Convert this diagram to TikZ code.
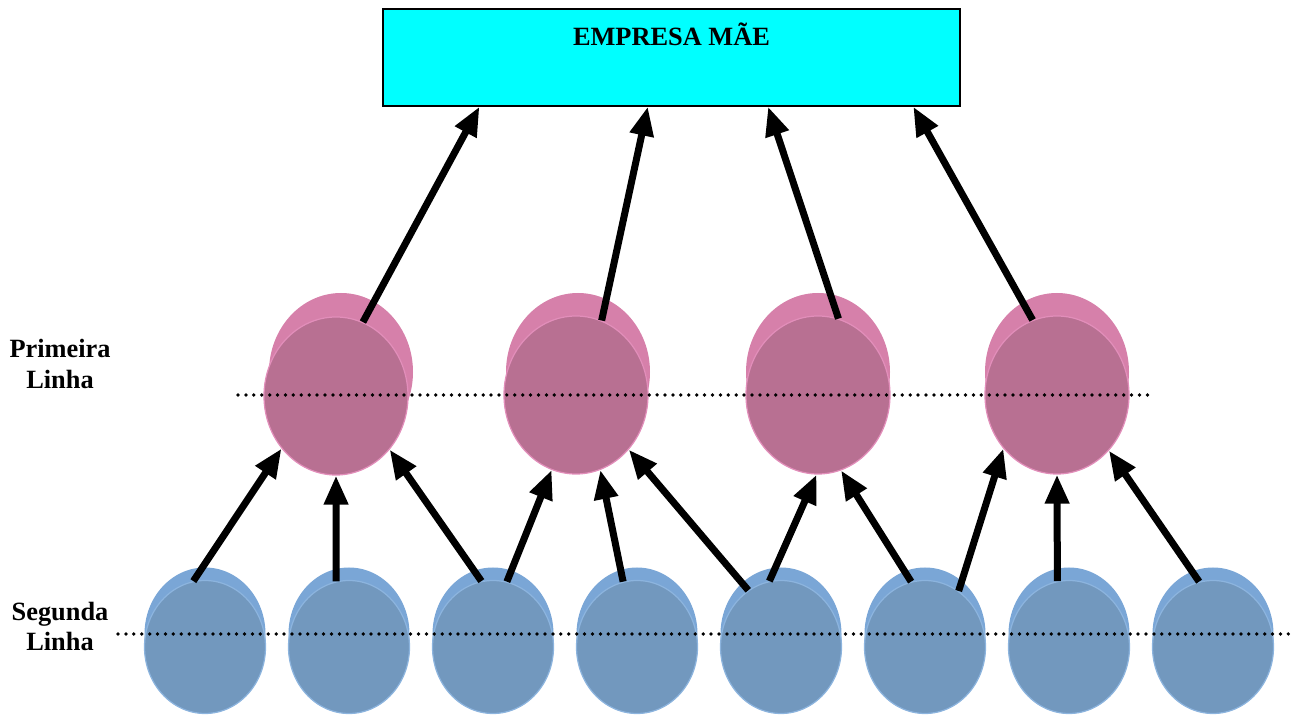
\documentclass[tikz,border=0pt]{standalone}
\usepackage{fontspec}
\setmainfont{Liberation Serif}
\usepackage{tikz}
\usetikzlibrary{positioning,shapes.geometric,arrows.meta,calc}
\newcommand{\seta}{-{Triangle[length=5.8mm,width=4.6mm]}}
\definecolor{ciano}{RGB}{0,255,255}
\definecolor{rosaclaro}{RGB}{214,128,170}
\definecolor{rosa}{RGB}{184,112,146}
\definecolor{rosaborda}{RGB}{226,142,186}
\definecolor{azulclaro}{RGB}{122,166,214}
\definecolor{azul}{RGB}{114,152,190}
\definecolor{azulborda}{RGB}{140,180,222}
\tikzset{
  rosafundo/.style={ellipse,fill=rosaclaro,minimum width=2.88cm,minimum height=3.16cm,inner sep=0pt},
  rosafrente/.style={ellipse,fill=rosa,draw=rosaborda,line width=0.7pt,minimum width=2.88cm,minimum height=3.16cm,inner sep=0pt},
  azulfundo/.style={ellipse,fill=azulclaro,minimum width=2.42cm,minimum height=2.66cm,inner sep=0pt},
  azulfrente/.style={ellipse,fill=azul,draw=azulborda,line width=0.7pt,minimum width=2.42cm,minimum height=2.66cm,inner sep=0pt},
  caixa/.style={rectangle,draw=black,line width=0.8pt,fill=ciano,minimum width=11.54cm,minimum height=1.94cm,inner sep=0pt},
  rotulo/.style={font=\fontsize{15}{17.5}\selectfont\bfseries,align=center,inner sep=0pt},
  pontilhado/.style={line width=0.075cm,line cap=round,dash pattern=on 0pt off 4.5pt},
  ligacao/.style={line width=0.14cm}
}

\begin{document}
\begin{tikzpicture}
    \useasboundingbox (0,0) rectangle (25.88,-14.3);
    % empresa mae
    \node[caixa] (empresa) at (13.43,-1.15) {};
    \node[rotulo,anchor=base] (titulo) at (13.43,-0.92) {EMPRESA MÃE};
    \coordinate (e1) at ($(empresa.south west)!0.168!(empresa.south east)$);
    \coordinate (e2) at ($(empresa.south west)!0.459!(empresa.south east)$);
    \coordinate (e3) at ($(empresa.south west)!0.667!(empresa.south east)$);
    \coordinate (e4) at ($(empresa.south west)!0.918!(empresa.south east)$);

    % primeira linha
    \node[rosafundo] (p1b) at (6.82,-7.44) {};
    \node[rosafundo] (p2b) at (11.56,-7.44) {};
    \node[rosafundo] (p3b) at (16.36,-7.44) {};
    \node[rosafundo] (p4b) at (21.14,-7.44) {};
    \node[rosafrente] (p1) at (6.72,-7.92) {};
    \node[rosafrente] (p2) at (11.52,-7.9) {};
    \node[rosafrente] (p3) at (16.36,-7.9) {};
    \node[rosafrente] (p4) at (21.14,-7.9) {};

    % segunda linha
    \node[azulfundo] (b1b) at (4.1,-12.68) {};
    \node[azulfundo] (b2b) at (6.98,-12.68) {};
    \node[azulfundo] (b3b) at (9.86,-12.68) {};
    \node[azulfundo] (b4b) at (12.74,-12.68) {};
    \node[azulfundo] (b5b) at (15.62,-12.68) {};
    \node[azulfundo] (b6b) at (18.5,-12.68) {};
    \node[azulfundo] (b7b) at (21.38,-12.68) {};
    \node[azulfundo] (b8b) at (24.26,-12.68) {};
    \node[azulfrente] (b1) at (4.1,-12.94) {};
    \node[azulfrente] (b2) at (6.98,-12.94) {};
    \node[azulfrente] (b3) at (9.86,-12.94) {};
    \node[azulfrente] (b4) at (12.74,-12.94) {};
    \node[azulfrente] (b5) at (15.62,-12.94) {};
    \node[azulfrente] (b6) at (18.5,-12.94) {};
    \node[azulfrente] (b7) at (21.38,-12.94) {};
    \node[azulfrente] (b8) at (24.26,-12.94) {};

    % linhas pontilhadas
    \coordinate (l1a) at (4.76,-7.9);
    \coordinate (l1b) at (23.0,-7.9);
    \coordinate (l2a) at (2.36,-12.68);
    \coordinate (l2b) at (25.84,-12.68);
    \draw[pontilhado] (l1a) -- (l1b);
    \draw[pontilhado] (l2a) -- (l2b);

    \node[rotulo] (primeira) at (1.2,-7.28) {Primeira\\Linha};
    \node[rotulo] (segunda) at (1.2,-12.53) {Segunda\\Linha};

    % setas
    \draw[ligacao,\seta] (p1.70) -- (e1);
    \draw[ligacao,\seta] (p2.71) -- (e2);
    \draw[ligacao,\seta] (p3.75) -- (e3);
    \draw[ligacao,\seta] (p4.108) -- (e4);
    \draw[ligacao,\seta] (b1.100) -- (p1.224);
    \draw[ligacao,\seta] (b2.101) -- (p1.270);
    \draw[ligacao,\seta] (b3.100) -- (p1.315);
    \draw[ligacao,\seta] (b3.78) -- (p2.252);
    \draw[ligacao,\seta] (b4.102) -- (p2.288);
    \draw[ligacao,\seta] (b5.120) -- (p2.314);
    \draw[ligacao,\seta] (b5.100) -- (p3.269);
    \draw[ligacao,\seta] (b6.102) -- (p3.287);
    \draw[ligacao,\seta] (b6.59) -- (p4.225);
    \draw[ligacao,\seta] (b7.100) -- (p4.270);
    \draw[ligacao,\seta] (b8.102) -- (p4.313);
\end{tikzpicture}
\end{document}
